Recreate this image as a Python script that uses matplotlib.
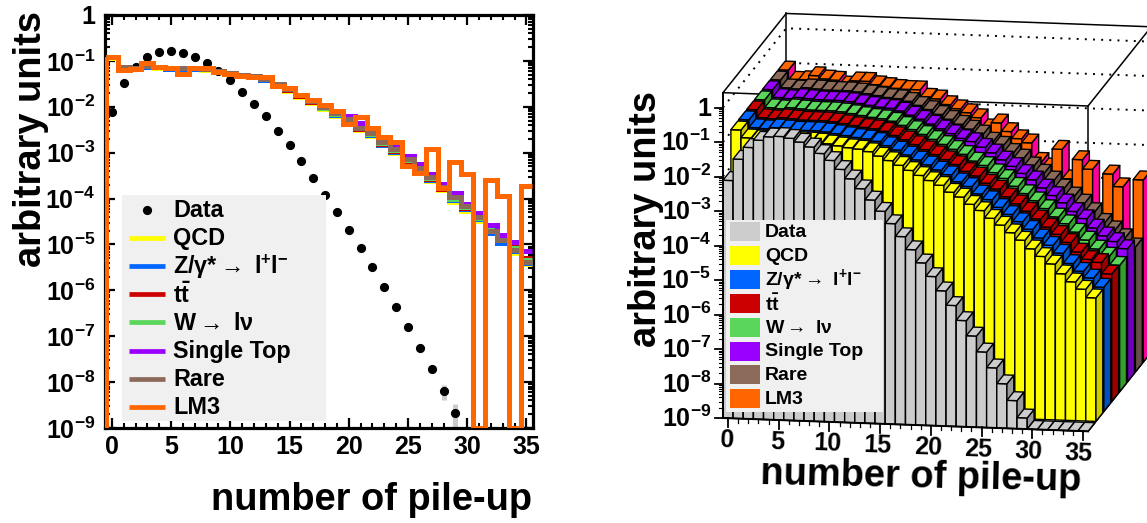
import numpy as np
import matplotlib
matplotlib.use("Agg")
import matplotlib.pyplot as plt
from matplotlib.collections import PolyCollection
from matplotlib.patches import Rectangle
from matplotlib.ticker import FixedLocator, NullFormatter

plt.rcParams["font.family"] = ["Liberation Sans", "DejaVu Sans"]
plt.rcParams["font.weight"] = "bold"
plt.rcParams["mathtext.fontset"] = "custom"
plt.rcParams["mathtext.default"] = "bf"
plt.rcParams["mathtext.bf"] = "Liberation Sans:bold"
plt.rcParams["mathtext.rm"] = "Liberation Sans"
plt.rcParams["mathtext.it"] = "Liberation Sans:italic"

# ── values ────────────────────────────────────────────────────────────────────
bins = np.arange(36)

data = [7.8e-3, 0.033, 0.074, 0.123, 0.158, 0.166, 0.151, 0.12, 0.089, 0.059, 0.038, 0.0214,
        0.0117, 6.2e-3, 3.0e-3, 1.45e-3, 6.5e-4, 2.8e-4, 1.2e-4, 5.1e-5, 2.1e-5, 8.3e-6,
        3.2e-6, 1.2e-6, 4.4e-7, 1.55e-7, 5.5e-8, 1.95e-8, 6.5e-9, 2.1e-9, 0, 0, 0, 0, 0, 0]
data_err_bins = [28, 29]
data_err_lo = [4.1e-9, 1e-9]
data_err_hi = [8.7e-9, 3.4e-9]

qcd = [0.118, 0.071, 0.068, 0.074, 0.071, 0.067, 0.067, 0.067, 0.064, 0.058, 0.052, 0.047,
       0.044, 0.038, 0.029, 0.022, 0.0165, 0.012, 0.0088, 0.0064, 0.0048, 0.0031, 0.0023,
       0.00145, 9.8e-4, 6.0e-4, 3.9e-4, 2.4e-4, 1.5e-4, 8.6e-5, 5.3e-5, 3.3e-5, 1.75e-5,
       1.05e-5, 6.6e-6, 3.8e-6]
zll = [0.120, 0.072, 0.069, 0.075, 0.072, 0.068, 0.068, 0.068, 0.065, 0.059, 0.053, 0.048,
       0.045, 0.039, 0.030, 0.023, 0.017, 0.0125, 0.0092, 0.0067, 0.0050, 0.0032, 0.0024,
       0.0015, 0.00105, 6.4e-4, 4.1e-4, 2.6e-4, 1.6e-4, 9.2e-5, 5.8e-5, 3.5e-5, 1.8e-5,
       1.1e-5, 7.2e-6, 4.0e-6]
ttbar = [0.121, 0.0725, 0.0695, 0.076, 0.0725, 0.0685, 0.0685, 0.0685, 0.0655, 0.0595, 0.0535,
         0.0485, 0.0455, 0.0395, 0.0305, 0.0235, 0.0175, 0.0128, 0.0094, 0.0069, 0.0051, 0.0033,
         0.0025, 0.00158, 0.0011, 6.7e-4, 4.3e-4, 2.7e-4, 1.65e-4, 9.8e-5, 6.2e-5, 3.7e-5,
         2.0e-5, 1.25e-5, 1.05e-5, 5.0e-6]
wlnu = [0.1215, 0.073, 0.0698, 0.0765, 0.0728, 0.0692, 0.069, 0.0692, 0.066, 0.060, 0.054, 0.049,
        0.046, 0.040, 0.031, 0.024, 0.0178, 0.0131, 0.0096, 0.0071, 0.0052, 0.0034, 0.0026,
        0.00165, 0.00115, 7.0e-4, 4.4e-4, 2.8e-4, 1.7e-4, 1.0e-4, 6.5e-5, 3.8e-5, 2.3e-5,
        1.3e-5, 8.3e-6, 4.6e-6]
single_top = [0.1235, 0.0745, 0.071, 0.0783, 0.0745, 0.0708, 0.0708, 0.0708, 0.0675, 0.061, 0.0552,
              0.05, 0.0475, 0.0408, 0.0318, 0.0248, 0.0184, 0.0137, 0.0102, 0.0076, 0.0063,
              0.00444, 0.00312, 0.0020, 0.00133, 8.5e-4, 5.7e-4, 3.4e-4, 2.1e-4, 1.32e-4,
              7.6e-5, 4.85e-5, 2.66e-5, 1.61e-5, 1.13e-5, 7.2e-6]
rare = [0.122, 0.0736, 0.070, 0.0774, 0.0736, 0.070, 0.070, 0.070, 0.0666, 0.0603, 0.0545, 0.0493,
        0.0469, 0.0403, 0.0314, 0.0244, 0.0181, 0.0134, 0.0099, 0.00733, 0.00542, 0.00345,
        0.00269, 0.00171, 0.0012, 7.3e-4, 4.6e-4, 3.0e-4, 1.8e-4, 1.08e-4, 6.9e-5, 4.0e-5,
        2.0e-5, 1.25e-5, 7.6e-6, 4.2e-6]
lm3 = [0.122, 0.063, 0.067, 0.090, 0.074, 0.070, 0.052, 0.070, 0.070, 0.057, 0.052, 0.047,
       0.045, 0.045, 0.028, 0.0257, 0.018, 0.014, 0.011, 0.0081, 0.0042, 0.0060, 0.00345,
       0.0022, 0.00171, 5.1e-4, 3.6e-4, 1.2e-3, 1.7e-4, 6.3e-4, 3.4e-4, 0, 2.6e-4, 1.14e-4,
       0, 1.9e-4]

labels = ["Data", "QCD", r"Z/$\mathrm{\gamma}$*${\mathrm{\rightarrow}}$ l$^{+}$l$^{-}$",
          r"t$\bar{\mathbf{t}}$", r"W${\mathrm{\rightarrow}}$ l$\mathrm{\nu}$",
          "Single Top", "Rare", "LM3"]
decades = [0, -1, -2, -3, -4, -5, -6, -7, -8, -9]
series = [qcd, zll, ttbar, wlnu, single_top, rare, lm3]

GRAY = "#cccccc"
front_colors = [GRAY, "#ffff00", "#0066ff", "#cc0000", "#5ad65a", "#9900ff", "#8b6a5a", "#ff6600"]
side_colors = ["#999999", "#cccc00", "#0050c0", "#990000", "#33a02c", "#7000bf", "#665046", "#ff0099"]

W, H = 1147, 523
LOG_MIN = -9
fig = plt.figure(figsize=(W / 100, H / 100), dpi=100)


def decade_label(e):
    return "1" if e == 0 else rf"10$^{{{e}}}$"


# ── left panel: overlaid histograms ───────────────────────────────────────────
L, R, T, B = 105, 533, 15, 428
ax = fig.add_axes([L / W, 1 - B / H, (R - L) / W, (B - T) / H])
ax.set_yscale("log")
ax.set_xlim(-0.58, 35.55)
ax.set_ylim(1e-9, 1)

ax.vlines(bins[data_err_bins], data_err_lo, data_err_hi, color=GRAY, lw=3.6, zorder=2)
ax.plot(bins, np.where(np.array(data) > 0, data, np.nan), "o", color="black", ms=5.6, zorder=3)

edges = np.arange(37) - 0.5
for vals, col in zip(series, front_colors[1:]):
    vals = np.clip(vals, 1e-9, None)
    ax.stairs(vals, edges, baseline=None, color=col, lw=3.6, zorder=4)
    ax.vlines(edges[0], 1e-9, vals[0], color=col, lw=3.6, zorder=4)

ax.set_xticks(np.arange(0, 36, 5))
ax.xaxis.set_minor_locator(FixedLocator(bins))
ax.set_yticks([10.0 ** e for e in decades], [decade_label(e) for e in decades])
ax.yaxis.set_minor_locator(FixedLocator(
    [m * 10.0 ** e for e in decades[1:] for m in range(2, 10)]))
ax.yaxis.set_minor_formatter(NullFormatter())
ax.tick_params(which="major", direction="in", top=True, right=True, length=7.5, width=1.6,
               labelsize=18)
ax.tick_params(which="minor", direction="in", top=True, right=True, length=3.8, width=1.5)
ax.tick_params(axis="x", pad=5)
ax.tick_params(axis="y", pad=7)
for sp in ax.spines.values():
    sp.set_linewidth(2.3)

# ── overlay in picture pixels: legends, labels, lego panel ────────────────────
pix = fig.add_axes([0, 0, 1, 1], facecolor="none")
pix.set_xlim(0, W)
pix.set_ylim(H, 0)
pix.axis("off")

pix.text(31, 139, "arbitrary units", rotation=90, ha="center", va="center", fontsize=27.4)
pix.text(532, 500, "number of pile-up", ha="right", va="center", fontsize=27.4)

# left legend
pix.add_patch(Rectangle((122, 195), 204, 226, fc="#f0f0f0", ec="none", zorder=5))
for i, (lab, col) in enumerate(zip(labels, front_colors)):
    y = 209.5 + i * 28.2
    if i == 0:
        pix.plot(147, y, "o", color="black", ms=5.6, zorder=6)
    else:
        pix.plot([129, 165], [y, y], color=col, lw=3.4, solid_capstyle="butt", zorder=6)
    pix.text(173, y + 1, lab, ha="left", va="center", fontsize=16.8, zorder=6)

# ── right panel: lego projection ──────────────────────────────────────────────
X0, Y0 = 723, 418      # front-left floor corner
DX, DY = 10.14, 0.37   # one bin along x
RX, RY = 7.9, 9.9      # one row along depth
DEC = 34.5             # one decade upward
LOG_TOP = 0.43
N_ROWS = 8
BAR_DEPTH = 0.87


def proj(x, depth, logy):
    u = x + 0.5
    return X0 + u * DX + depth * RX, Y0 + u * DY - depth * RY - (logy - LOG_MIN) * DEC


# frame and back-wall grid, all behind the bars
corners = {"fl": proj(-0.5, 0, LOG_TOP), "fr": proj(35.5, 0, LOG_TOP),
           "bl": proj(-0.5, N_ROWS, LOG_TOP), "br": proj(35.5, N_ROWS, LOG_TOP)}
for a, b in [("fl", "fr"), ("fl", "bl"), ("bl", "br"), ("fr", "br")]:
    pix.plot(*zip(corners[a], corners[b]), color="black", lw=1.1, zorder=1)
for a, b in [(proj(-0.5, N_ROWS, LOG_TOP), proj(-0.5, N_ROWS, -1)),
             (proj(35.5, 0, LOG_TOP), proj(35.5, 0, LOG_MIN)),
             (proj(35.5, 0, LOG_MIN), proj(35.5, N_ROWS, LOG_MIN))]:
    pix.plot(*zip(a, b), color="black", lw=1.1, zorder=1)
for e in decades[:5]:
    pts = [proj(-0.5, 0, e), proj(-0.5, N_ROWS, e), proj(35.5, N_ROWS, e)]
    pix.plot(*zip(*pts), color="black", lw=1.4, ls=(0, (1, 3.2)), zorder=1)

polys, faces = [], []
rows = [data] + series
for r in range(N_ROWS - 1, -1, -1):
    for i in bins:
        v = rows[r][i]
        top = max(np.log10(v), LOG_MIN) if v > 0 else LOG_MIN
        x0, x1 = i - 0.5, i + 0.5
        d0, d1 = r, r + BAR_DEPTH
        polys.append([proj(x0, d0, LOG_MIN), proj(x1, d0, LOG_MIN), proj(x1, d0, top), proj(x0, d0, top)])
        faces.append(front_colors[r])
        polys.append([proj(x1, d0, LOG_MIN), proj(x1, d1, LOG_MIN), proj(x1, d1, top), proj(x1, d0, top)])
        faces.append(side_colors[r])
        polys.append([proj(x0, d0, top), proj(x1, d0, top), proj(x1, d1, top), proj(x0, d1, top)])
        faces.append(front_colors[r])
pix.add_collection(PolyCollection(polys, facecolors=faces, edgecolors="black", linewidths=1.0, zorder=2))

# lego axes
pix.plot(*zip(proj(-0.5, 0, LOG_MIN), proj(-0.5, 0, LOG_TOP)), color="black", lw=1.4, zorder=3)
pix.plot(*zip(proj(-0.5, 0, LOG_MIN), proj(35.5, 0, LOG_MIN)), color="black", lw=1.4, zorder=3)
for e in decades:
    x, y = proj(-0.5, 0, e)
    pix.plot([x - 8, x], [y, y], color="black", lw=1.3, zorder=3)
    pix.text(x - 12, y + 1, decade_label(e), ha="right", va="center", fontsize=18, zorder=3)
    if e > LOG_MIN:
        for m in range(2, 10):
            my = proj(-0.5, 0, e - 1 + np.log10(m))[1]
            pix.plot([x - 4, x], [my, my], color="black", lw=0.8, zorder=3)
for i in bins:
    x, y = proj(i, 0, LOG_MIN)
    major = i % 5 == 0
    pix.plot([x, x], [y, y + (9 if major else 4)], color="black", lw=1.3 if major else 0.9, zorder=3)
    if major:
        pix.text(x - 1 - i / 10, y + 22, str(i), ha="center", va="center", fontsize=18, rotation=-2, zorder=3)

pix.text(646, 219, "arbitrary units", rotation=90, ha="center", va="center", fontsize=27.4)
pix.text(921, 477, "number of pile-up", ha="center", va="center", fontsize=27.4, rotation=-1.2)

# lego legend
pix.add_patch(Rectangle((726, 220), 157, 192, fc="#f0f0f0", ec="none", zorder=5))
for i, (lab, col) in enumerate(zip(labels, front_colors)):
    y = 231.5 + i * 23.9
    pix.add_patch(Rectangle((730, y - 9.5), 30, 19, fc=col, ec="none", zorder=6))
    pix.text(765, y + 1, lab, ha="left", va="center", fontsize=14, zorder=6)

fig.savefig("out.png", dpi=100)
